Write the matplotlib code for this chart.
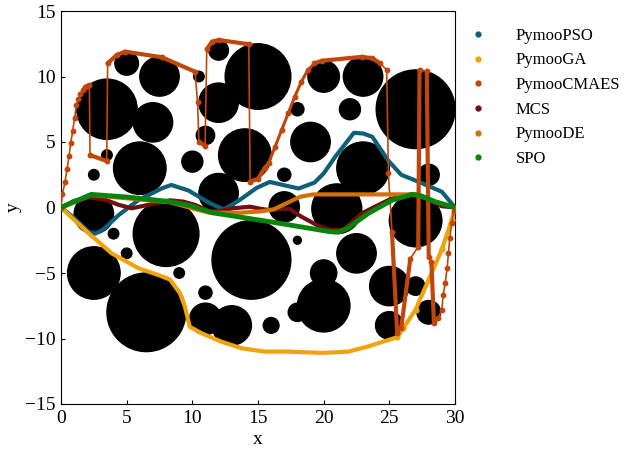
import matplotlib
matplotlib.use("Agg")
import matplotlib.pyplot as plt
from matplotlib.patches import Circle
from matplotlib.lines import Line2D

plt.rcParams['font.family'] = 'serif'
plt.rcParams['font.serif'] = ['Liberation Serif', 'DejaVu Serif']
plt.rcParams['mathtext.fontset'] = 'stix'

# obstacles: centre x, centre y, radius
obs_x = [3.5, 5, 7.5, 7, 6, 3.5, 2.5, 10, 10.5, 12, 12, 11, 15, 14, 12, 2.5, 4, 5, 8, 2.5,
         6.5, 9, 11, 11, 13, 14.5, 16, 18, 22.5, 20, 20, 18, 25, 27, 25, 28, 27, 20, 23, 22,
         18, 27, 19, 23, 17, 28, 17, 21]
obs_y = [7.5, 11, 10, 6.5, 3, 4, 2.5, 3.5, 10, 12, 8, 5.5, 10, 4, 1.1, -0.5, -2, -3.5, -2, -5,
         -8, -5, -6.5, -8.5, -9, -4, -9, -2.5, -3.5, -5, -7.5, -8, -6, -6, -9, -8, -1, 10, 10, 7.5,
         7.5, 7.5, 5, 3, 2.5, 2.5, 0.05, -0.1]
obs_r = [2.3, 0.9, 1.5, 1.5, 2.0, 0.4, 0.4, 0.8, 0.4, 0.75, 1.5, 0.7, 2.5, 2.0, 1.5, 1.5, 0.4, 0.4, 2.5, 2.0,
         3.0, 0.4, 0.5, 1.2, 1.5, 3.0, 0.6, 0.3, 1.5, 1.0, 2.0, 0.7, 1.5, 0.7, 1.05, 0.9, 2.0, 1.2, 1.5, 0.8,
         0.5, 3.0, 1.5, 2.0, 0.5, 0.8, 1.15, 1.9]

pso_x = [0, 1, 2.1, 2.6, 3.2, 4.4, 5.9, 7.7, 8.4, 9.7, 11.35, 12.4, 13.6, 14.9, 15.9, 16.9, 18.1,
         19.3, 20.0, 20.9, 22.3, 23.0, 23.7, 24.9, 25.9, 27.5, 29.0, 30]
pso_y = [0, -0.8, -1.85, -2.0, -1.7, -0.57, 0.57, 1.47, 1.72, 1.3, 0.32, -0.15, 0.57, 1.5, 1.95, 1.72, 1.45,
         1.9, 2.6, 3.9, 5.7, 5.65, 5.4, 3.6, 2.5, 1.85, 1.2, 0]

ga_x = [0, 2.1, 3.86, 5.9, 7.4, 8.3, 9.06, 9.44, 9.8, 10.7, 12.2, 13.76, 15.5, 17.3, 19.9, 21.9,
        23.4, 25.6, 26.07, 27.0, 28.0, 29.0, 29.75, 30]
ga_y = [0, -1.97, -3.5, -4.64, -5.15, -5.5, -6.55, -7.57, -9.1, -9.6, -10.24, -10.75, -11.0, -11.0, -11.1, -11.0,
        -10.6, -9.9, -9.2, -7.8, -5.5, -3.2, -0.95, 0]

cmaes_x = [0, 0.1, 0.3, 0.46, 0.61, 0.74, 0.89, 1.04, 1.17, 1.32, 1.47, 1.65, 1.83, 2.0, 2.16,
           2.21, 3.48, 3.55, 4.24, 4.87, 7.67, 10.2, 10.4, 10.5, 10.97, 11.1, 11.5, 12.0, 14.3,
           14.4, 15.0, 15.5, 15.8, 16.3, 16.8, 17.3, 17.8, 18.3, 18.8, 19.3, 19.86, 22.9, 23.7,
           24.3, 24.8, 24.93, 25.2, 25.6, 25.9, 26.6, 27.2, 27.3, 27.85, 28.0, 28.2, 28.4, 28.7,
           29.0, 29.1, 29.25, 29.4, 29.5, 29.6, 29.75, 29.9, 30]
cmaes_y = [0, 1.0, 1.92, 2.94, 3.93, 4.9, 5.86, 6.86, 7.82, 8.28, 8.64, 8.97, 9.18, 9.3, 9.35,
           4.0, 3.55, 11.0, 11.64, 11.9, 11.47, 10.37, 8.03, 5.02, 4.72, 12.08, 12.66, 12.79, 12.46,
           1.97, 2.2, 3.0, 3.37, 4.64, 5.92, 7.19, 8.46, 9.6, 10.5, 11.0, 11.2, 11.5, 11.4,
           11.0, 10.5, 2.6, -1.85, -9.6, -9.2, -3.9, -3.0, 10.5, 10.4, -3.75, -4.14, -8.84, -8.46,
           -7.82, -6.68, -5.79, -4.64, -3.5, -2.35, -1.2, -0.3, 0]

mcs_x = [0, 1, 2.1, 3.35, 4.4, 5.4, 6.4, 7.2, 8.3, 9.3, 10.2, 11.35, 12.2, 13.1, 14.4, 15.2, 15.9,
         16.6, 17.4, 18.3, 19.5, 20.5, 21.5, 22.9, 23.9, 25, 26, 27, 28, 29, 30]
mcs_y = [0, 0.5, 0.78, 0.6, 0.2, -0.06, 0.15, 0.32, 0.55, 0.45, 0.2, -0.3, -0.25, -0.06, 0.06, -0.1, -0.2,
         -0.1, -0.1, -0.7, -1.35, -1.7, -1.7, -0.45, 0.06, 0.6, 0.9, 1.0, 0.6, 0.1, 0]

de_x = [0, 2.3, 8.3, 10.5, 11.35, 13.6, 15.2, 16.2, 18.2, 19.2, 20.0, 27.0, 28.5, 30]
de_y = [0, 0.95, 0.4, -0.2, -0.4, -0.4, -0.3, -0.14, 0.82, 1.0, 1.0, 1.0, 0.44, 0]

spo_x = [0, 2.3, 5.0, 8.3, 9.8, 11.5, 16.0, 20.5, 21.2, 21.8, 23.4, 25.2, 26.7, 27.4, 28.5, 30]
spo_y = [0, 1.0, 0.8, 0.45, 0.15, -0.4, -1.1, -1.85, -1.85, -1.6, -0.45, 0.55, 1.0, 0.9, 0.44, 0]

names = ['PymooPSO', 'PymooGA', 'PymooCMAES', 'MCS', 'PymooDE', 'SPO']
colors = ['#0f5f78', '#f0a30a', '#c0460c', '#6e0f12', '#d4700a', '#07850a']

# index ranges of CMAES drawn as dense (thick) stretches
cmaes_thick = [(15, 16), (17, 21), (23, 24), (25, 28), (29, 32), (39, 43), (46, 47), (48, 49),
               (50, 51), (52, 53), (54, 55)]

fig = plt.figure(figsize=(6.25, 4.49), dpi=100)
ax = fig.add_axes([61/625, 1-404/449, 394/625, 393/449])

for cx, cy, r in zip(obs_x, obs_y, obs_r):
    ax.add_patch(Circle((cx, cy), r, color='black', zorder=1))

lw = 3.0
ax.plot(pso_x, pso_y, color=colors[0], lw=lw, zorder=3, solid_capstyle='round')
ax.plot(ga_x, ga_y, color=colors[1], lw=lw, zorder=3, solid_capstyle='round')
ax.plot(ga_x[17:], ga_y[17:], color=colors[1], lw=0, marker='o', ms=3.5, zorder=3)
# CMAES
ax.plot(cmaes_x, cmaes_y, color=colors[2], lw=1.2, marker='o', ms=3.2, zorder=3)
for a, b in cmaes_thick:
    ax.plot(cmaes_x[a:b+1], cmaes_y[a:b+1], color=colors[2], lw=3.0, zorder=3,
            solid_capstyle='round')
ax.plot(cmaes_x[32:40], cmaes_y[32:40], color=colors[2], lw=2.2, zorder=3)
ax.plot(mcs_x, mcs_y, color=colors[3], lw=lw, zorder=3, solid_capstyle='round')
ax.plot(de_x, de_y, color=colors[4], lw=lw, zorder=3, solid_capstyle='round')
ax.plot(spo_x, spo_y, color=colors[5], lw=3.5, zorder=3, solid_capstyle='round')

ax.set_xlim(0, 30)
ax.set_ylim(-15, 15)
ax.set_xticks([0, 5, 10, 15, 20, 25, 30])
ax.set_yticks([-15, -10, -5, 0, 5, 10, 15])
ax.tick_params(labelsize=14, direction='in', length=3, pad=4)
ax.set_xlabel('x', fontsize=14, labelpad=3)
ax.set_ylabel('y', fontsize=14, labelpad=2)

handles = [Line2D([], [], ls='none', marker='o', ms=3.5, color=c) for c in colors]
fig.legend(handles, names, loc='upper left', bbox_to_anchor=(0.714, 0.9717), frameon=False,
           fontsize=12, handletextpad=1.28, labelspacing=0.52)

fig.savefig('out.png', dpi=100)
